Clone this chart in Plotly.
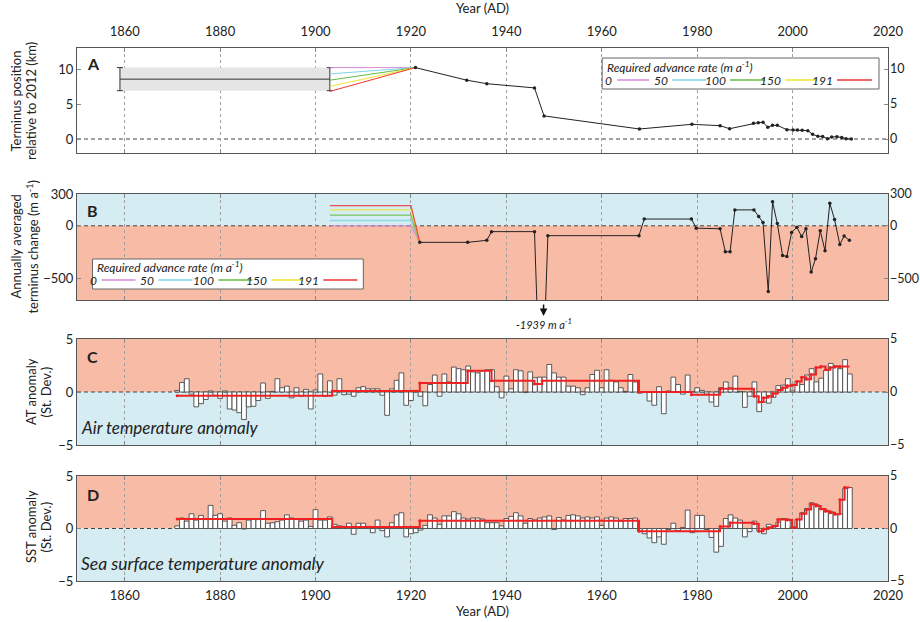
import plotly.graph_objects as go

# ---------------- DATA ----------------
# Panel A: terminus position relative to 2012 (km)
pos_years = [1920.95, 1931.7, 1935.9, 1945.9, 1947.9, 1967.9, 1978.9, 1984.8, 1986.8,
             1991.8, 1992.8, 1993.8, 1994.8, 1995.8, 1996.8, 1998.8, 2000.1, 2001.0,
             2002.0, 2003.2, 2004.2, 2005.3, 2006.3, 2007.3, 2008.2, 2009.3, 2010.3,
             2011.2, 2012.3]
pos_km = [10.2, 8.4, 7.9, 7.3, 3.3, 1.43, 2.1, 1.9, 1.47,
          2.24, 2.33, 2.38, 1.67, 1.95, 1.95, 1.33, 1.3, 1.28,
          1.24, 1.19, 0.67, 0.39, 0.36, 0.04, 0.29, 0.33, 0.2,
          0.05, 0.0]

# early (1859-1903) position estimate: range and midpoint
early_years = [1859, 1903]
early_low = 6.9
early_high = 10.2
early_mid = 8.55

# required advance rates (m/a) and their 1903 start positions (km)
rates = [0, 50, 100, 150, 191]
rate_labels = ["0", "50", "100", "150", "191"]
rate_start_km = [10.2, 9.3, 8.4, 7.5, 6.8]
rate_colors = ["#d68ad8", "#7fd5e8", "#66bb44", "#f2e42c", "#ee3636"]
rate_years_a = [1903, 1920.95]
rate_years_b = [1903, 1920.0, 1921.85]

# Panel B: annually averaged terminus change (m/a)
chg_years = [1921.85, 1931.9, 1935.9, 1936.9, 1945.9, 1947.3, 1948.7, 1967.8, 1968.9,
             1978.8, 1979.8, 1984.8, 1985.9, 1986.9, 1987.9, 1991.9, 1992.9, 1993.8,
             1994.9, 1995.8, 1996.8, 1997.9, 1998.8, 1999.8, 2000.9, 2001.9, 2002.8,
             2003.9, 2004.8, 2005.8, 2006.8, 2007.8, 2008.8, 2009.9, 2010.8, 2011.9]
chg_vals = [-156, -156, -137, -55, -55, -1939, -93, -93, 64,
            64, -22, -28, -245, -245, 150, 150, 88, 31,
            -620, 226, 21, -280, -290, -63, -13, -101, -28,
            -437, -311, -47, -236, 213, 59, -176, -97, -136]

# Panels C & D: annual anomalies (St. Dev.)
anom_years = list(range(1871, 2013))
at_anom = [
    0.15, 0.9, 1.25, -0.2, -1.4, -1.1, -0.7, 0.1, -0.3, -0.6,      # 1871-1880
    0.1, -1.6, -1.7, -1.95, -2.6, -1.4, -1.35, -0.8, 0.85, -0.6,   # 1881-1890
    0.05, 1.25, 0.4, 0.55, -0.55, 0.4, -0.4, 0.25, -1.6, 0.2,      # 1891-1900
    1.7, -0.4, 1.05, -0.3, 1.25, -0.25, -0.2, -0.4, 0.4, 0.5,      # 1901-1910
    0.3, 0.3, 0.3, -0.3, -2.2, 0.3, 1.1, 1.8, -1.25, -0.8,         # 1911-1920
    0.15, -0.4, -1.3, 0.7, 1.6, -0.4, 1.7, 0.95, 2.35, 2.2,        # 1921-1930
    2.1, 2.45, 1.9, 1.8, 2.0, 2.1, 2.1, 0.5, -0.55, 1.5,           # 1931-1940
    0.3, 2.1, 2.0, -0.05, 1.9, 1.35, 1.4, 1.4, 2.6, 1.8,           # 1941-1950
    1.4, 1.4, 0.55, 0.55, 0.4, -0.25, 0.4, 1.65, 2.05, 0.4,        # 1951-1960
    2.1, 1.1, 0.95, 0.4, 0.05, 1.65, 0.95, -0.1, -0.05, -0.85,     # 1961-1970
    -1.25, 0.5, -2.05, 0.1, 1.4, 0.7, -0.2, 1.6, 0.05, 0.4,        # 1971-1980
    0.15, -0.2, -0.95, -1.35, 0.4, 0.95, 0.4, 1.5, 0.05, -1.45,    # 1981-1990
    -0.4, 0.95, -1.85, -0.95, -1.05, -0.5, 0.6, 0.65, 1.25, 0.1,   # 1991-2000
    1.0, 0.7, 1.6, 2.2, 0.95, 1.3, 2.05, 2.7, 2.45, 2.2,           # 2001-2010
    3.05, 1.7]                                                     # 2011-2012
sst_anom = [
    0.25, 1.0, 0.7, 1.4, 0.8, 1.25, 0.85, 2.2, 1.25, 1.4,          # 1871-1880
    0.7, 1.0, 0.3, 0.55, -0.05, 0.8, 0.95, 0.85, 1.7, 0.5,         # 1881-1890
    0.55, 0.65, 0.8, 1.3, 1.0, 0.85, 0.7, 0.8, 0.2, 1.8,           # 1891-1900
    0.8, 0.8, 1.1, 0.4, 0.25, 0.2, 0.5, -0.55, 0.5, 0.5,           # 1901-1910
    0.2, -0.4, 0.8, -0.2, -0.8, 0.55, 1.3, 1.5, -0.8, -0.5,        # 1911-1920
    -0.4, -0.15, 0.3, 1.3, 1.0, 0.4, 1.2, 1.2, 1.6, 1.4,           # 1921-1930
    1.0, 0.9, 1.0, 1.0, 0.9, 0.55, 0.55, 0.55, 0.25, 0.95,         # 1931-1940
    1.15, 1.5, 1.2, 0.5, 0.95, 0.8, 1.0, 1.1, 1.2, -0.1,           # 1941-1950
    1.05, 0.8, 1.25, 1.3, 1.2, 1.0, 1.1, 1.0, 1.1, 0.3,            # 1951-1960
    1.0, 1.1, 1.0, 0.7, 0.95, 0.95, 1.0, -0.25, -0.5, -0.9,        # 1961-1970
    -1.35, -0.8, -1.5, -0.1, 0.5, -0.2, 0.1, 1.75, -0.4, 1.25,     # 1971-1980
    1.25, -0.1, -0.85, -2.25, -1.7, 0.95, 1.3, 1.0, 0.8, -0.8,     # 1981-1990
    -0.3, 0.7, -0.25, -0.5, 0.4, 0.15, 0.6, 0.95, 0.9, 0.15,       # 1991-2000
    0.85, 1.5, 1.9, 2.45, 2.3, 1.9, 1.75, 1.6, 1.35, 1.4,          # 2001-2010
    3.8, 3.9]                                                      # 2011-2012

# period means (step lines): start year of each period and its mean
at_step_start = [1871, 1903.5, 1921.85, 1931.9, 1936.9, 1945.9, 1947.5, 1967.8, 1978.8,
                 1984.8, 1991.9, 1992.9, 1993.9, 1994.9, 1995.9, 1996.9, 1997.9, 1998.9,
                 1999.9, 2000.9, 2001.9, 2002.9, 2003.9, 2004.9, 2005.9, 2006.9, 2007.9,
                 2008.9, 2009.9]
at_step_val = [-0.35, 0.1, 0.85, 2.0, 1.05, 0.75, 1.05, 0.0, -0.25,
               0.3, -0.4, -0.95, -0.55, -0.4, -0.15, 0.2, 0.4, 0.6,
               0.65, 1.0, 1.4, 1.2, 1.65, 2.3, 2.4, 2.1, 2.3,
               2.4, 2.4]
at_step_end = 2011.9
sst_step_start = [1871, 1903.5, 1921.85, 1967.8, 1984.8, 1986.9, 1991.9, 1992.9, 1993.9,
                  1994.9, 1995.9, 1996.9, 1998.9, 1999.9, 2000.9, 2001.9, 2002.9, 2003.9,
                  2004.9, 2005.9, 2006.9, 2007.9, 2008.9, 2009.9, 2010.9]
sst_step_val = [0.9, 0.15, 0.73, -0.25, 0.2, 0.55, 0.45, -0.25, -0.05,
                0.1, 0.25, 0.85, 0.8, 0.1, 0.85, 1.4, 1.8, 2.3,
                2.15, 1.85, 1.65, 1.5, 1.35, 2.75, 3.9]
sst_step_end = 2011.9

dip_year = 1947.8
dip_label = "-1939 m a<sup>-1</sup>"

# ---------------- STYLE ----------------
FONT = "Lato, 'Open Sans', sans-serif"
SALMON = "#f8bca6"
BLUE = "#d4ecf2"
OFF = 0                      # page body margin removed by post_script
W, H = 920 - OFF, 622 - OFF
L, R, T, B = 76.5 - OFF, 32, 48 - OFF, 41
PW, PH = W - L - R, H - T - B


def px(xp):
    return (xp - OFF - L) / PW


def py(yp):
    return (H - B - (yp - OFF)) / PH


dom_a = [py(153), py(48)]
dom_b = [py(300), py(194)]
dom_c = [py(445), py(339)]
dom_d = [py(581), py(476)]

fig = go.Figure()

# ---- Panel A ----
fig.add_trace(go.Scatter(
    x=[early_years[0], early_years[1], early_years[1], early_years[0], early_years[0]],
    y=[early_low, early_low, early_high, early_high, early_low],
    fill="toself", fillcolor="#e5e5e5", line=dict(width=0), mode="lines",
    xaxis="x", yaxis="y", hoverinfo="skip"))
fig.add_trace(go.Scatter(
    x=early_years, y=[early_mid, early_mid], mode="lines",
    line=dict(color="#333", width=1),
    error_y=dict(type="data", symmetric=False,
                 array=[early_high - early_mid] * 2,
                 arrayminus=[early_mid - early_low] * 2,
                 color="#333", thickness=1, width=3),
    xaxis="x", yaxis="y"))
for s, c in zip(rate_start_km, rate_colors):
    fig.add_trace(go.Scatter(x=rate_years_a, y=[s, pos_km[0]], mode="lines",
                             line=dict(color=c, width=1), xaxis="x", yaxis="y"))
fig.add_trace(go.Scatter(x=pos_years, y=pos_km, mode="lines+markers",
                         line=dict(color="#222", width=1),
                         marker=dict(color="#222", size=3.5),
                         xaxis="x", yaxis="y"))

# ---- Panel B ----
for r, c in zip(rates, rate_colors):
    fig.add_trace(go.Scatter(x=rate_years_b, y=[r, r, chg_vals[0]], mode="lines",
                             line=dict(color=c, width=1.3), opacity=0.85,
                             xaxis="x2", yaxis="y2"))
fig.add_trace(go.Scatter(x=chg_years, y=chg_vals, mode="lines+markers",
                         line=dict(color="#222", width=1),
                         marker=dict(color="#222", size=3.5),
                         xaxis="x2", yaxis="y2"))

# ---- Panels C & D ----
for yv, st, sv, se, ax in [(at_anom, at_step_start, at_step_val, at_step_end, "3"),
                           (sst_anom, sst_step_start, sst_step_val, sst_step_end, "4")]:
    fig.add_trace(go.Bar(x=anom_years, y=yv, width=1,
                         marker=dict(color="white", line=dict(color="#4a4a4a", width=0.9)),
                         xaxis="x" + ax, yaxis="y" + ax))
    fig.add_trace(go.Scatter(x=st + [se], y=sv + [sv[-1]], mode="lines",
                             line=dict(color="#ee2222", width=2, shape="hv"),
                             xaxis="x" + ax, yaxis="y" + ax))
    fig.add_trace(go.Scatter(x=st, y=sv, mode="markers",
                             marker=dict(color="#ee2222", size=3),
                             xaxis="x" + ax, yaxis="y" + ax))

# ---------------- AXES ----------------
TF = dict(size=13, color="#222", family=FONT)
TFR = dict(size=12.5, color="#222", family=FONT)
xcommon = dict(range=[1850, 2020], tickvals=list(range(1860, 2021, 20)),
               showgrid=True, gridcolor="#a0a0a0", griddash="3px,3px", gridwidth=0.8,
               ticks="inside", ticklen=4, tickcolor="#888", showline=True,
               linecolor="#555", linewidth=1, mirror="ticks", zeroline=False,
               tickfont=TF, automargin=False, ticklabeloverflow="allow")
ycommon = dict(ticks="inside", ticklen=4, tickcolor="#888", showline=True,
               linecolor="#555", linewidth=1, mirror="ticks", zeroline=False,
               showgrid=False, tickfont=TF, automargin=False, ticklabeloverflow="allow")
yright = dict(ticks="", showline=False, zeroline=False, showgrid=False,
              side="right", tickfont=TFR, automargin=False, ticklabelstandoff=1,
              ticklabeloverflow="allow")

panels = [("", dom_a, [-2, 13], [0, 5, 10]),
          ("2", dom_b, [-700, 300], [-500, 0, 300]),
          ("3", dom_c, [-5, 5], [-5, 0, 5]),
          ("4", dom_d, [-5, 5], [-5, 0, 5])]
lay = {}
for i, (k, dom, rng, tv) in enumerate(panels):
    xa = dict(xcommon, anchor="y" + k)
    if k == "":
        xa.update(side="top", showticklabels=True, ticklabelstandoff=6,
                  title=dict(text="Year (AD)", font=TF, standoff=6))
    elif k == "4":
        xa.update(side="bottom", showticklabels=True, matches="x", ticklabelstandoff=2,
                  title=dict(text="Year (AD)", font=TF, standoff=3))
    else:
        xa.update(showticklabels=False, matches="x")
    lay["xaxis" + k] = xa
    lay["yaxis" + k] = dict(ycommon, domain=dom, range=rng, tickvals=tv, anchor="x" + k)
    rk = str(5 + i)
    lay["yaxis" + rk] = dict(yright, range=rng, tickvals=tv,
                             overlaying="y" + k, anchor="x" + k)

# invisible traces so that the right-hand axes are drawn
for i, (k, dom, rng, tv) in enumerate(panels):
    fig.add_trace(go.Scatter(x=[None], y=[None], mode="markers", showlegend=False,
                             hoverinfo="skip", xaxis="x" + k, yaxis="y" + str(5 + i)))

# ---------------- SHAPES ----------------
shapes = []
for k, top_c, bot_c, lo, hi in [("2", BLUE, SALMON, -700, 300),
                                ("3", SALMON, BLUE, -5, 5),
                                ("4", SALMON, BLUE, -5, 5)]:
    shapes.append(dict(type="rect", xref="x%s domain" % k, yref="y" + k,
                       x0=0, x1=1, y0=0, y1=hi, fillcolor=top_c, line_width=0, layer="below"))
    shapes.append(dict(type="rect", xref="x%s domain" % k, yref="y" + k,
                       x0=0, x1=1, y0=lo, y1=0, fillcolor=bot_c, line_width=0, layer="below"))
for k in ["", "2", "3", "4"]:
    shapes.append(dict(type="line", xref="x%s domain" % k, yref="y" + k,
                       x0=0, x1=1, y0=0, y1=0,
                       line=dict(color="#444", width=1, dash="4px,3px"), layer="below"))

annotations = []


def txt(x, y, s, size=13, **kw):
    d = dict(x=px(x), y=py(y), xref="paper", yref="paper", text=s, showarrow=False,
             font=dict(size=size, family=FONT, color="#222"))
    d.update(kw)
    annotations.append(d)


# legend boxes
def legend(x0, x1, y0, y1, title_y, row_y, items):
    shapes.append(dict(type="rect", xref="paper", yref="paper",
                       x0=px(x0), x1=px(x1), y0=py(y1), y1=py(y0),
                       fillcolor="white", line=dict(color="#666", width=1), layer="above"))
    txt(x0 + 3, title_y, "<i>Required advance rate (m a<sup>-1</sup>)</i>", size=12,
        xanchor="left", yanchor="middle")
    for lab, lx, l0, l1, col in items:
        txt(lx, row_y, "<i>%s</i>" % lab, size=12, xanchor="right", yanchor="middle")
        shapes.append(dict(type="line", xref="paper", yref="paper",
                           x0=px(l0), x1=px(l1), y0=py(row_y), y1=py(row_y),
                           line=dict(color=col, width=1.3), layer="above"))


legend(602, 879, 58, 89, 67, 80,
       [(rate_labels[0], 614, 617, 649, rate_colors[0]),
        (rate_labels[1], 670, 672, 706, rate_colors[1]),
        (rate_labels[2], 728, 730, 765, rate_colors[2]),
        (rate_labels[3], 783, 785, 818, rate_colors[3]),
        (rate_labels[4], 835, 837, 872, rate_colors[4])])
legend(92, 363, 259, 289, 267, 280,
       [(rate_labels[0], 99, 101, 135, rate_colors[0]),
        (rate_labels[1], 156, 158, 192, rate_colors[1]),
        (rate_labels[2], 216, 218, 252, rate_colors[2]),
        (rate_labels[3], 269, 271, 303, rate_colors[3]),
        (rate_labels[4], 321, 323, 357, rate_colors[4])])

# panel letters
for lab, yy in [("A", 63), ("B", 210), ("C", 357), ("D", 494)]:
    txt(85, yy, "<b>%s</b>" % lab, size=16, xanchor="left", yanchor="middle")

txt(79, 427, "<i>Air temperature anomaly</i>", size=17, xanchor="left", yanchor="middle")
txt(79, 563, "<i>Sea surface temperature anomaly</i>", size=17.5, xanchor="left",
    yanchor="middle")

# y titles (rotated)
for x, y, s in [(15, 101, "Terminus position"), (30.5, 101, "relative to 2012 (km)"),
                (15, 247, "Annually averaged"), (31, 247, "terminus change (m a<sup>-1</sup>)"),
                (30.5, 392, "AT anomaly"), (45, 392, "(St. Dev.)"),
                (30.5, 527, "SST anomaly"), (45, 527, "(St. Dev.)")]:
    txt(x, y, s, size=13, textangle=-90, xanchor="center", yanchor="middle")

# -1939 arrow and label
annotations.append(dict(x=dip_year, xref="x2", y=py(316), yref="paper", ax=0, ay=-13,
                        text="", showarrow=True, arrowhead=2, arrowsize=1, arrowwidth=1.5,
                        arrowcolor="#111"))
annotations.append(dict(x=dip_year, xref="x2", y=py(323), yref="paper",
                        text="<i>%s</i>" % dip_label, showarrow=False,
                        font=dict(size=11, family=FONT, color="#222"), yanchor="middle"))

fig.update_layout(width=W, height=H, margin=dict(l=L, r=R, t=T, b=B),
                  plot_bgcolor="white", paper_bgcolor="white", showlegend=False,
                  barmode="overlay", font=dict(family=FONT, size=13, color="#222"),
                  hovermode=False,
                  shapes=shapes, annotations=annotations, **lay)

fig.write_html("out.html", config={"displayModeBar": False},
               post_script="document.body.style.margin='0';"
                           "document.body.style.overflow='hidden';")
